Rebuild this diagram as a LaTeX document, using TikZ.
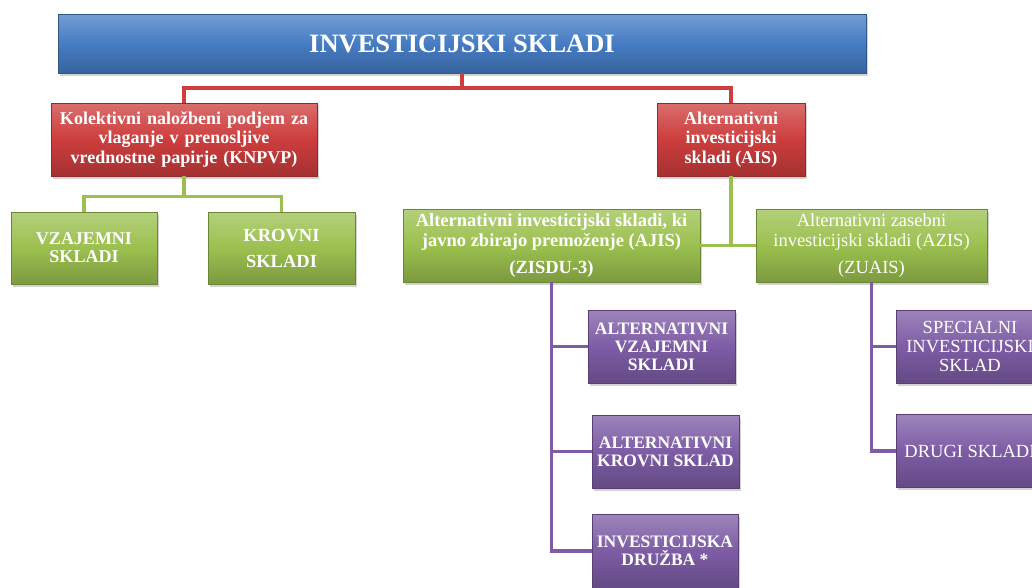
\documentclass[tikz,border=0pt]{standalone}
\usepackage{fontspec}
\setmainfont{Liberation Serif}
\usetikzlibrary{shadows}

\definecolor{skblue}{HTML}{467CC4}
\definecolor{skred}{HTML}{CD3D3D}
\definecolor{skgreen}{HTML}{9BC04F}
\definecolor{skpurple}{HTML}{7D5CA5}

\tikzset{
  fund/.style={rectangle, draw=#1!70!black, line width=0.6pt,
    top color=#1!75!white, bottom color=#1!80!black, middle color=#1,
    text=white, align=center, inner sep=2pt,
    drop shadow={shadow xshift=1.5pt, shadow yshift=-2.5pt, opacity=0.35}},
  link/.style={draw=#1, line width=3.5pt},
  bigtext/.style={font=\bfseries\fontsize{18}{19.5}\selectfont},
  captext/.style={font=\bfseries\fontsize{17.5}{18}\selectfont},
  plaintext/.style={font=\fontsize{18.5}{19}\selectfont}
}

\begin{document}
\begin{tikzpicture}[x=1pt, y=-1pt]
	\useasboundingbox (0,0) rectangle (1032,587);
	\clip (0,0) rectangle (1032,587);

	\node[fund=skblue, minimum width=808pt, minimum height=59pt,
	      font=\bfseries\fontsize{26.5}{28}\selectfont] (title) at (462,43.5) {INVESTICIJSKI SKLADI};

	\node[fund=skred, bigtext, minimum width=266pt, minimum height=73pt, text width=262pt] (knpvp) at (184,139.5)
		{Kolektivni naložbeni podjem za\\ vlaganje v prenosljive\\ vrednostne papirje (KNPVP)};
	\node[fund=skred, bigtext, minimum width=148pt, minimum height=73pt] (ais) at (731,139.5)
		{Alternativni\\ investicijski\\ skladi (AIS)};

	\node[fund=skgreen, font=\bfseries\fontsize{18}{18}\selectfont, minimum width=146pt, minimum height=72pt] (vz) at (84,248)
		{VZAJEMNI\\ SKLADI};
	\node[fund=skgreen, font=\bfseries\fontsize{18.5}{19}\selectfont, minimum width=147pt, minimum height=72pt] (kr) at (281.5,248)
		{KROVNI\\[7pt] SKLADI};
	\node[fund=skgreen, font=\bfseries\fontsize{18.5}{20}\selectfont, minimum width=297pt, minimum height=73pt] (ajis) at (551.5,245.5)
		{Alternativni investicijski skladi, ki\\ javno zbirajo premoženje (AJIS)\\[7pt] (ZISDU-3)};
	\node[fund=skgreen, font=\fontsize{18.5}{20}\selectfont, minimum width=231pt, minimum height=73pt] (azis) at (871.5,245.5)
		{Alternativni zasebni\\ investicijski skladi (AZIS)\\[7pt] (ZUAIS)};

	\node[fund=skpurple, captext, minimum width=147pt, minimum height=73pt] (avs) at (661.5,346.5)
		{ALTERNATIVNI\\ VZAJEMNI\\ SKLADI};
	\node[fund=skpurple, captext, minimum width=147pt, minimum height=73pt] (aks) at (665.5,451.5)
		{ALTERNATIVNI\\ KROVNI SKLAD};
	\node[fund=skpurple, captext, minimum width=146pt, minimum height=74pt] (idr) at (665,551)
		{INVESTICIJSKA\\ DRUŽBA *};
	\node[fund=skpurple, plaintext, minimum width=148pt, minimum height=73pt] (sis) at (970,346.5)
		{SPECIALNI\\ INVESTICIJSKI\\ SKLAD};
	\node[fund=skpurple, plaintext, minimum width=148pt, minimum height=73pt] (dsk) at (970,451)
		{DRUGI SKLADI};

	\coordinate (rj) at (462,88);
	\draw[link=skred] (title.south) -- (rj);
	\draw[link=skred] (knpvp.north) |- (rj) -| (ais.north);

	\draw[link=skgreen] (knpvp.south) -- ++(0,20) coordinate (gj);
	\draw[link=skgreen] (vz.north) |- (gj) -| (kr.north);
	\draw[link=skgreen] (ais.south) -- (ais.south |- ajis.east);
	\draw[link=skgreen] (ajis.east) -- (azis.west);

	\draw[link=skpurple] (ajis.south) |- (avs.west);
	\draw[link=skpurple] (ajis.south) |- (aks.west);
	\draw[link=skpurple] (ajis.south) |- (idr.west);
	\draw[link=skpurple] (azis.south) |- (sis.west);
	\draw[link=skpurple] (azis.south) |- (dsk.west);
\end{tikzpicture}
\end{document}
